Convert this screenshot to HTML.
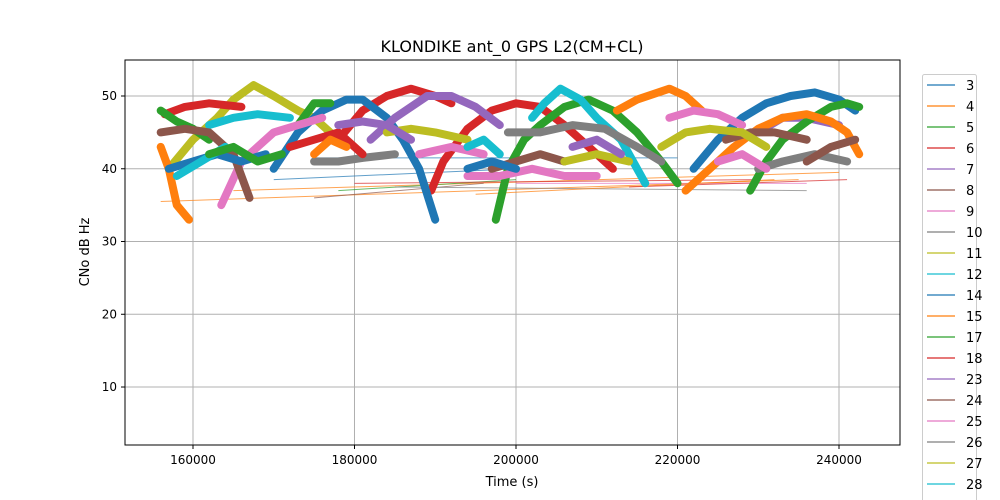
<!DOCTYPE html>
<html><head><meta charset="utf-8"><style>
body{margin:0;background:#fff;}
svg{display:block;font-family:"DejaVu Sans","Liberation Sans",sans-serif;}
</style></head><body>
<svg id="chart" width="1000" height="500">
<rect x="0" y="0" width="1000" height="500" fill="#fff"/>
<g id="grid"></g>
<g id="series" clip-path="url(#clip)"></g>
<defs><clipPath id="clip"><rect x="125" y="60" width="775" height="385"/></clipPath></defs>
<rect x="125" y="60" width="775" height="385" fill="none" stroke="#000" stroke-width="1"/>
<g id="axes"></g>
<text x="512" y="52" font-size="16" text-anchor="middle">KLONDIKE ant_0 GPS L2(CM+CL)</text>
<text x="512" y="486" font-size="13" text-anchor="middle">Time (s)</text>
<text x="89" y="252" font-size="13" text-anchor="middle" transform="rotate(-90 89 252)">CNo dB Hz</text>
<g id="legend"></g>
</svg>
<script>
const xTicks=[160000,180000,200000,220000,240000];
const yTicks=[10,20,30,40,50];
const legendLabels=["3","4","5","6","7","8","9","10","11","12","14","15","17","18","23","24","25","26","27","28","29"];
const colors=["#1f77b4","#ff7f0e","#2ca02c","#d62728","#9467bd","#8c564b","#e377c2","#7f7f7f","#bcbd22","#17becf"];
// thick noisy arcs: [colorIndex, times (ks), cno values]
const arcColors=[8,3,3,3,0,0,4,4,2,2,2,2,9,9,1,1,1,7,7,6,6,6,5,5,5,8,8,0,7,9,3,4,6,5,2,0,8,6,4,1,9];
const arcTimes=[
[157,160,163,165,167.5,170,173,175,178],
[156.5,159,162,166],
[178,181,184,187,190,192],
[189.5,191,194,197,200,203,206,209,212],
[170,173,176,179,181,184,186,188,190],
[222,225,228,231,234,237,240,242],
[182,185,189,192,195,198],
[230,233,236,240],
[156,158,160,162],
[173,175,177],
[197.5,199,201,203,206,209,212,215,218,220],
[229,231,233,236,239,241,242.5],
[162,165,168,172],
[202,203.5,205.5,208,210,213,216],
[212.5,215,219,221,223],
[221,224,227,230,233,236,239,241,242.5],
[156,157,158,159.5],
[175,178,181,185],
[199,203,207,211,215,218],
[163.5,166,170,173,176],
[194,198,202,206,210],
[219,222,225,228],
[156,159,162,165,167],
[197,200,203,206],
[226,229,232,236],
[184,187,190,194],
[218,221,224,228,231],
[157,160,163,166,169],
[230,233,237,241],
[158,161,164],
[172,175,178,181],
[178,181,184,187],
[188,192,196],
[236,239,242],
[162,165,168,171],
[194,197,200],
[206,210,214],
[225,228,231],
[207,210,213],
[175,177,179],
[194,196,198]];
const arcValues=[
[40,44,47,49.5,51.5,50,48,47,44],
[47.5,48.5,49,48.5],
[44,48,50,51,50,49],
[37,41,45.5,48,49,48.5,46,43,40],
[40,45,48,49.5,49.5,47,44,40,33],
[40,44,47,49,50,50.5,49.5,48],
[44,47,50,50,48.5,46],
[45,47,47,46],
[48,46.5,45.5,44],
[46,49,49],
[33,40,44,46,48.5,49.5,48,45,41,38],
[37,41,44,46.5,48.5,49,48.5],
[46,47,47.5,47],
[47,49,51,49.5,47,44,38],
[48,49.5,51,50,48],
[37,40,43,45.5,47,47.5,46.5,45,42],
[43,40,35,33],
[41,41,41.5,42],
[45,45,46,45.5,43,41],
[35,41,45,46,47],
[39,39,40,39,39],
[47,48,47.5,46],
[45,45.5,45,42,36],
[40,41,42,41],
[44,45,45,44],
[45,45.5,45,44],
[43,45,45.5,45,43],
[40,41,42,41,42],
[40,41,42,41],
[39,41,43],
[43,44,45,42],
[46,46.5,46,44],
[42,43,42],
[41,43,44],
[42,43,41,42],
[40,41,40],
[41,42,41],
[41,42,40],
[43,44,42],
[42,44,43],
[43,44,42]];
// thin connecting lines: [colorIndex, t0, v0, t1, v1]
const thinColors=[1,1,0,0,5,2,3,6,7,1,3];
const thinT0=[156,165,170,175,175,178,180,200,185,195,214];
const thinV0=[35.5,37,38.5,41.5,36,37,38,38,37.5,36.5,37.5];
const thinT1=[235,240,200,220,196,200,230,236,236,232,241];
const thinV1=[38.5,39.5,40,41.5,38,38.5,38.5,38,37,38.5,38.5];

const X0=151580,X1=247554,Y0=2.03,Y1=54.95;
const xs=t=>125+(t-X0)/(X1-X0)*775;
const ys=v=>445-(v-Y0)/(Y1-Y0)*385;
const NS="http://www.w3.org/2000/svg";
const mk=(tag,attrs,parent)=>{const e=document.createElementNS(NS,tag);for(const k in attrs)e.setAttribute(k,attrs[k]);parent.appendChild(e);return e;};
const grid=document.getElementById('grid'),axes=document.getElementById('axes');
xTicks.forEach(t=>{
  const x=xs(t);
  const g=mk('line',{x1:x,x2:x,y1:60,y2:445,stroke:'#b0b0b0','stroke-width':1},grid);
  
  
  mk('line',{x1:x,x2:x,y1:445,y2:449,stroke:'#000'},axes);
  const tx=mk('text',{x:x,y:464,'font-size':12,'text-anchor':'middle'},axes);
  tx.textContent=t;
  
  
});
yTicks.forEach(v=>{
  const y=ys(v);
  const g=mk('line',{x1:125,x2:900,y1:y,y2:y,stroke:'#b0b0b0','stroke-width':1},grid);
  
  
  mk('line',{x1:121,x2:125,y1:y,y2:y,stroke:'#000'},axes);
  const tx=mk('text',{x:117,y:y+4,'font-size':12,'text-anchor':'end'},axes);
  tx.textContent=v;
  
  
});
const sg=document.getElementById('series');
thinColors.forEach((c,i)=>{
  const l=mk('line',{x1:xs(thinT0[i]*1000),y1:ys(thinV0[i]),x2:xs(thinT1[i]*1000),y2:ys(thinV1[i]),stroke:colors[c],'stroke-width':1,opacity:0.7},sg);
  
  
});
arcColors.forEach((c,i)=>{
  const pts=arcTimes[i].map((t,j)=>xs(t*1000).toFixed(1)+','+ys(arcValues[i][j]).toFixed(1)).join(' ');
  const p=mk('polyline',{points:pts,fill:'none',stroke:colors[c],'stroke-width':8,'stroke-linejoin':'round','stroke-linecap':'round'},sg);
  
  
});
const lg=document.getElementById('legend');
const box=mk('rect',{x:922.5,y:74.5,width:54,height:440,fill:'#fff',stroke:'#ccc',rx:2},lg);


legendLabels.forEach((lab,i)=>{
  const y=85+i*21;
  const g=mk('g',{},lg);
  
  
  mk('line',{x1:927,x2:955,y1:y,y2:y,stroke:colors[i%10],'stroke-width':1.2},g);
  const t=mk('text',{x:966,y:y+5,'font-size':13},g);
  t.textContent=lab;
});
</script>
</body></html>
